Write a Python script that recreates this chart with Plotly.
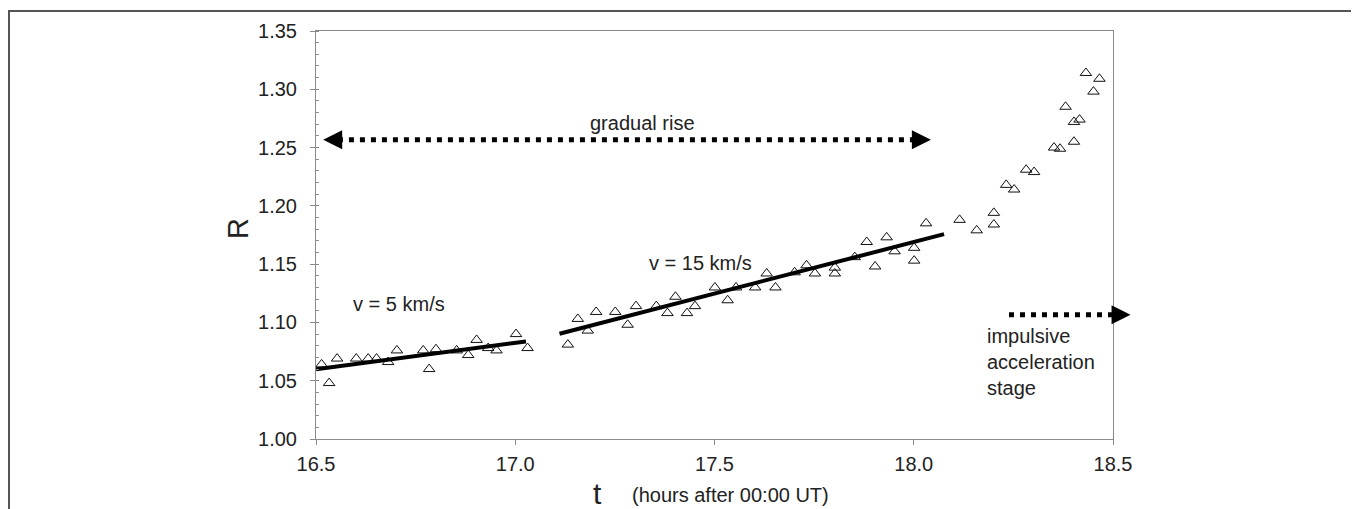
import plotly.graph_objects as go

# ---- data ----
t_hours = [16.514, 16.533, 16.553, 16.601, 16.631, 16.652, 16.681, 16.703, 16.769, 16.784,
           16.801, 16.853, 16.882, 16.903, 16.932, 16.953, 17.002, 17.031,
           17.132, 17.157, 17.182, 17.203, 17.251, 17.282, 17.303, 17.354, 17.382, 17.402,
           17.431, 17.451, 17.501, 17.533, 17.554, 17.602, 17.631, 17.653, 17.701, 17.731,
           17.752, 17.802, 17.802, 17.852, 17.882, 17.903, 17.932, 17.952, 18.001, 18.001,
           18.031, 18.115, 18.158, 18.201, 18.201, 18.232, 18.252, 18.282, 18.302, 18.352,
           18.367, 18.381, 18.402, 18.402, 18.416, 18.432, 18.451, 18.466]
R_values = [1.064, 1.048, 1.069, 1.069, 1.069, 1.069, 1.066, 1.076, 1.076, 1.060,
            1.077, 1.076, 1.072, 1.085, 1.078, 1.076, 1.090, 1.078,
            1.081, 1.103, 1.093, 1.109, 1.109, 1.098, 1.114, 1.114, 1.108, 1.122,
            1.108, 1.114, 1.130, 1.119, 1.130, 1.130, 1.142, 1.130, 1.143, 1.149,
            1.142, 1.147, 1.142, 1.156, 1.169, 1.148, 1.173, 1.161, 1.164, 1.153,
            1.185, 1.188, 1.179, 1.194, 1.184, 1.218, 1.214, 1.231, 1.229, 1.250,
            1.249, 1.285, 1.255, 1.272, 1.274, 1.314, 1.298, 1.309]

fit1_t = [16.5, 17.027]
fit1_R = [1.0598, 1.0837]
fit2_t = [17.111, 18.076]
fit2_R = [1.0903, 1.1757]

# dotted arrows (annotation guides)
gradual_t = [16.555, 18.006]
gradual_R = [1.2568, 1.2568]
gradual_tips = (16.518, 18.043)
impulsive_t = [18.239, 18.498]
impulsive_R = [1.1065, 1.1065]
impulsive_tip = 18.544

x_range = [16.5, 18.5]
y_range = [1.0, 1.35]
x_ticks = [16.5, 17.0, 17.5, 18.0, 18.5]

FONT = "Liberation Sans, Arial, sans-serif"
TXT = "#222222"
AX = "#8a8a8a"

fig = go.Figure()

fig.add_trace(go.Scatter(x=t_hours, y=R_values, mode="markers",
                         marker=dict(symbol="triangle-up-open", size=10, color="#111111",
                                     line=dict(width=1, color="#111111")),
                         showlegend=False, hoverinfo="x+y"))
for ft, fr in ((fit1_t, fit1_R), (fit2_t, fit2_R)):
    fig.add_trace(go.Scatter(x=ft, y=fr, mode="lines",
                             line=dict(color="#000000", width=4),
                             showlegend=False, hoverinfo="skip"))
for dt, dr in ((gradual_t, gradual_R), (impulsive_t, impulsive_R)):
    fig.add_trace(go.Scatter(x=dt, y=dr, mode="lines",
                             line=dict(color="#000000", width=5, dash="5px,6px"),
                             showlegend=False, hoverinfo="skip"))


def to_paper_x(x):
    return (x - x_range[0]) / (x_range[1] - x_range[0])


# arrow heads (paper x so that the one past the axis end is still drawn)
def head(x, y, direction):
    fig.add_annotation(x=to_paper_x(x), y=y, xref="paper", yref="y", text="", showarrow=True,
                       arrowhead=2, arrowsize=0.95, arrowwidth=4, arrowcolor="#000000",
                       ax=-8 * direction, ay=0)


head(gradual_tips[0], gradual_R[0], -1)
head(gradual_tips[1], gradual_R[0], 1)
head(impulsive_tip, impulsive_R[0], 1)


# text annotations
def label(x, y, text, xanchor="center", size=20, align="center"):
    fig.add_annotation(x=x, y=y, xref="x", yref="y", text=text, showarrow=False,
                       xanchor=xanchor, yanchor="middle", align=align,
                       font=dict(family=FONT, size=size, color=TXT))


label(17.3196, 1.271, "gradual rise")
label(16.7075, 1.1159, "v = 5 km/s")
label(17.4649, 1.1509, "v = 15 km/s")
label(18.179, 1.066, "impulsive<br>acceleration<br>stage", xanchor="left", align="left")

# axis titles
fig.add_annotation(x=-0.0979, y=0.517, xref="paper", yref="paper", text="R", textangle=-90,
                   showarrow=False, xanchor="center", yanchor="middle",
                   font=dict(family=FONT, size=29, color=TXT))
fig.add_annotation(x=0.3526, y=-0.134, xref="paper", yref="paper", text="t",
                   showarrow=False, xanchor="center", yanchor="middle",
                   font=dict(family=FONT, size=30, color=TXT))
fig.add_annotation(x=0.394, y=-0.137, xref="paper", yref="paper", text="(hours after 00:00 UT)",
                   showarrow=False, xanchor="left", yanchor="middle",
                   font=dict(family=FONT, size=20, color=TXT))

# outer frame of the picture
fig.add_shape(type="rect", xref="paper", yref="paper", x0=-0.3852, x1=1.2999, y0=-0.3, y1=1.0488,
              line=dict(color="#555555", width=2), fillcolor="rgba(0,0,0,0)", layer="below")

fig.update_xaxes(range=x_range, tickvals=x_ticks, tickformat=".1f",
                 showgrid=False, zeroline=False, showline=True, linecolor=AX, linewidth=1,
                 mirror=True, ticks="outside", ticklen=5, tickcolor=AX, ticklabelstandoff=2,
                 tickfont=dict(family=FONT, size=20, color=TXT))
fig.update_yaxes(range=y_range, dtick=0.05, tick0=1.0, tickformat=".2f",
                 showgrid=False, zeroline=False, showline=True, linecolor=AX, linewidth=1,
                 mirror=True, ticks="outside", ticklen=5, tickcolor=AX, ticklabelstandoff=9,
                 minor=dict(dtick=0.01, ticks="inside", ticklen=3, tickcolor=AX, showgrid=False),
                 tickfont=dict(family=FONT, size=20, color=TXT))

# the page body adds an 8 px margin, so the figure starts at (8, 8)
fig.update_layout(width=1351, height=501,
                  margin=dict(l=308, r=246, t=21, b=70),
                  paper_bgcolor="white", plot_bgcolor="white",
                  font=dict(family=FONT, color=TXT))

fig.write_html("out.html")
